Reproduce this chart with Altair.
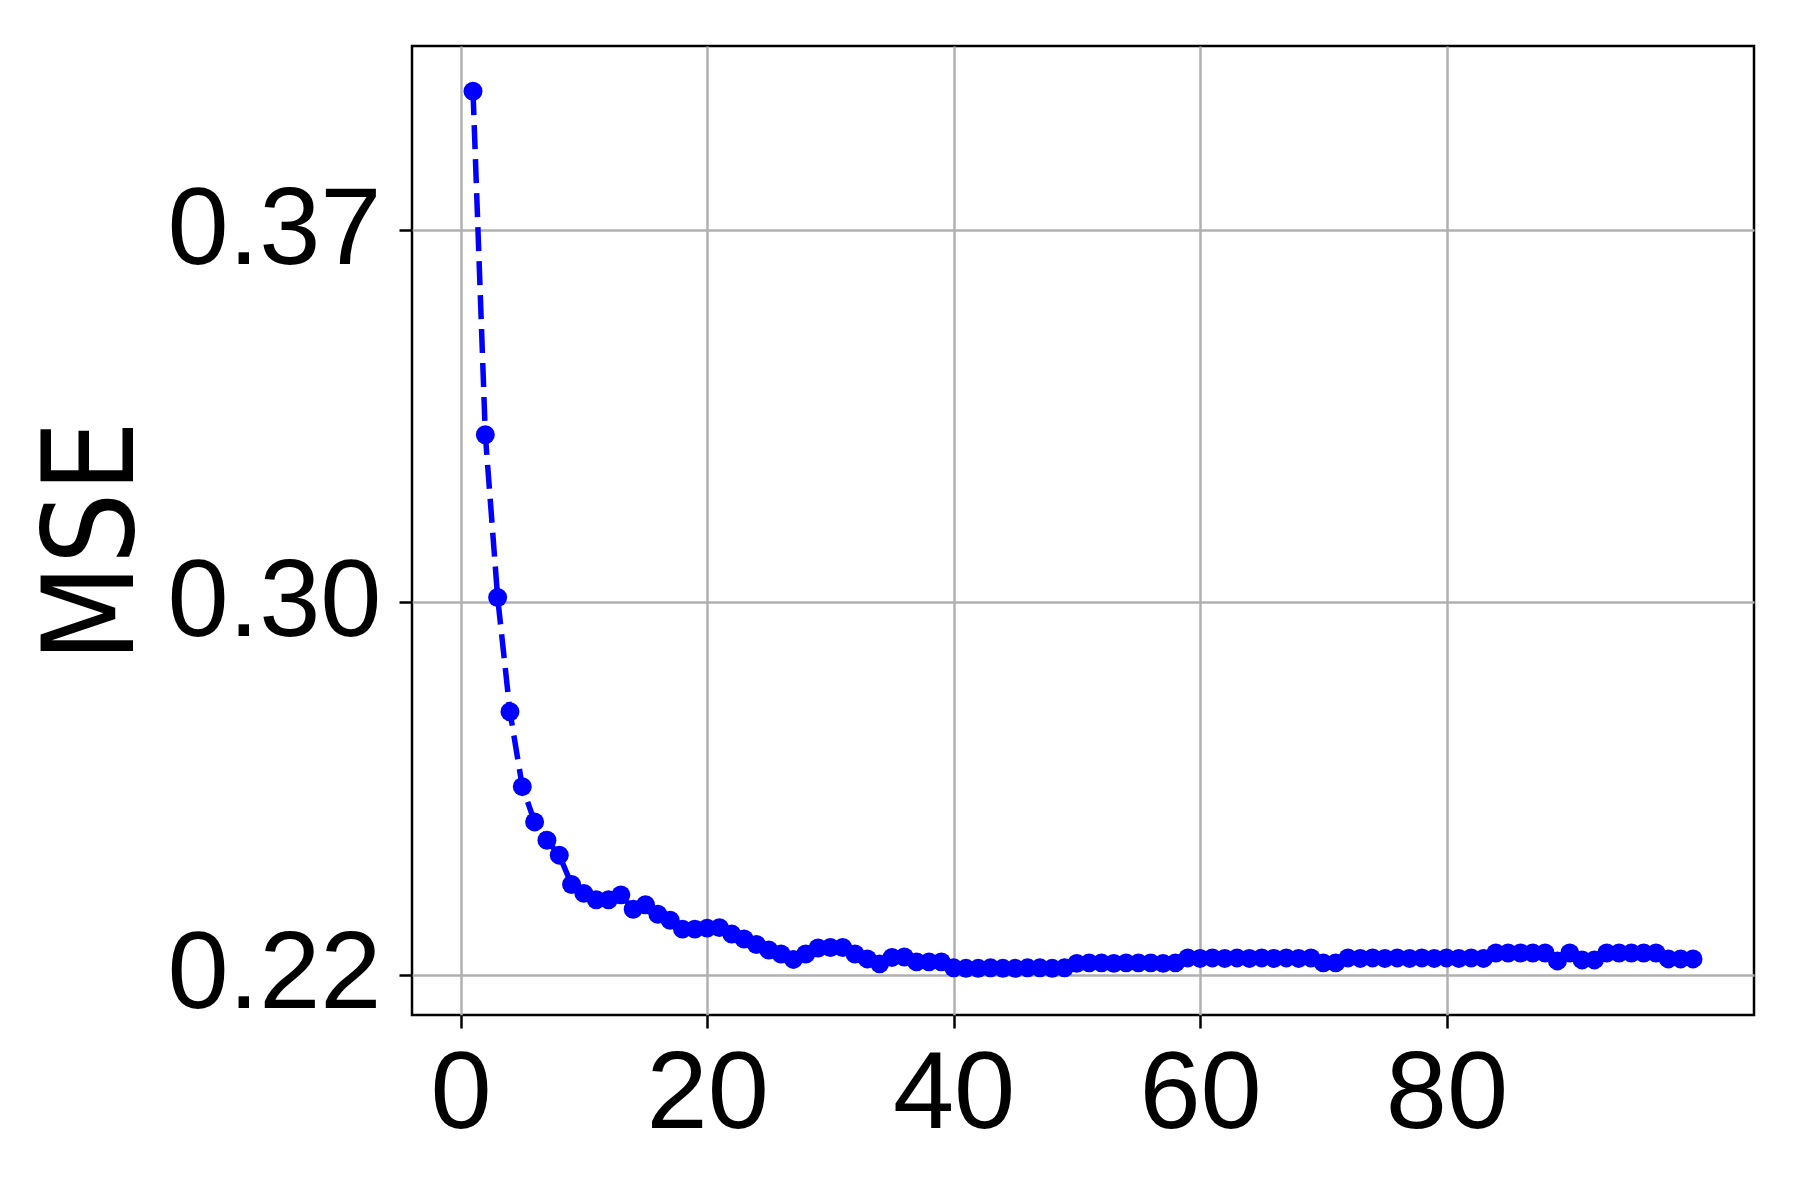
import altair as alt
import pandas as pd

epochs = list(range(1, 101))
mse = [
    0.4002, 0.3310, 0.2982, 0.2752, 0.2601, 0.2530, 0.2493, 0.2463, 0.2404, 0.2386,
    0.2373, 0.2373, 0.2383, 0.2354, 0.2363, 0.2344, 0.2332, 0.2314, 0.2314, 0.2316,
    0.2317, 0.2304, 0.2294, 0.2283, 0.2272, 0.2264, 0.2253, 0.2264, 0.2276, 0.2277,
    0.2277, 0.2264, 0.2254, 0.2244, 0.2257, 0.2258, 0.2248, 0.2248, 0.2248, 0.2236,
    0.2235, 0.2235, 0.2236, 0.2235, 0.2235, 0.2236, 0.2236, 0.2235, 0.2236, 0.2245,
    0.2246, 0.2246, 0.2245, 0.2246, 0.2246, 0.2246, 0.2245, 0.2246, 0.2256, 0.2255,
    0.2256, 0.2255, 0.2256, 0.2255, 0.2256, 0.2255, 0.2256, 0.2255, 0.2256, 0.2246,
    0.2246, 0.2256, 0.2255, 0.2256, 0.2255, 0.2256, 0.2255, 0.2256, 0.2255, 0.2256,
    0.2255, 0.2256, 0.2255, 0.2266, 0.2266, 0.2266, 0.2266, 0.2266, 0.2250, 0.2266,
    0.2252, 0.2252, 0.2266, 0.2266, 0.2266, 0.2266, 0.2266, 0.2254, 0.2254, 0.2254,
]

x_ticks = [0, 20, 40, 60, 80]
y_ticks = [0.2222, 0.2972, 0.3722]
x_domain = [-3.95, 104.95]
y_domain = [0.2141, 0.4093]

df = pd.DataFrame({"epoch": epochs, "mse": mse})

x_enc = alt.X(
    "epoch:Q",
    scale=alt.Scale(domain=x_domain, nice=False, zero=False),
    axis=alt.Axis(values=x_ticks, title=None, format="d", labelPadding=12),
)
y_enc = alt.Y(
    "mse:Q",
    scale=alt.Scale(domain=y_domain, nice=False, zero=False),
    axis=alt.Axis(
        values=y_ticks,
        format=".2f",
        title="MSE",
        titleAngle=270,
        titleAlign="center",
        titleBaseline="alphabetic",
        titleX=-280,
        titleY=495,
        titleFontSize=126,
        titleFont="DejaVu Sans Condensed, Liberation Sans, sans-serif",
        titleFontWeight="normal",
        titleColor="black",
        labelPadding=18,
    ),
)

line = alt.Chart(df).mark_line(
    color="#0000ff", strokeWidth=5.5, strokeDash=[24, 10]
).encode(x=x_enc, y=y_enc)

points = alt.Chart(df).mark_point(
    filled=True, color="#0000ff", size=360, opacity=1, shape="circle"
).encode(x=x_enc, y=y_enc)

chart = (
    alt.layer(line, points)
    .properties(
        width=1342,
        height=969,
        padding={"left": 404, "top": 38, "right": 30, "bottom": 170},
        autosize=alt.AutoSizeParams(type="none"),
        background="white",
    )
    .configure_view(stroke="black", strokeWidth=2.5)
    .configure_axis(
        labelFont="Liberation Sans",
        labelFontSize=110,
        labelColor="black",
        labelLimit=0,
        tickColor="black",
        tickSize=13,
        tickWidth=2.5,
        domain=False,
        grid=True,
        gridColor="#b0b0b0",
        gridWidth=2.5,
    )
)

chart.save("out.html", embed_options={"renderer": "svg", "actions": False})
